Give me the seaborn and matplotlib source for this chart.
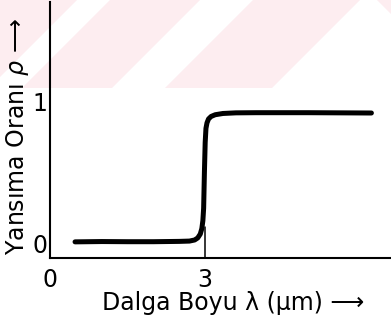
import matplotlib
matplotlib.use("Agg")
import matplotlib.pyplot as plt
from matplotlib.patches import Polygon
import seaborn as sns
import pandas as pd

# Reflectance step of a cut-off filter near 3 µm
wavelength = [0.48, 1.0, 1.5, 2.0, 2.5, 2.7, 2.8, 2.86, 2.91, 2.94, 2.96, 2.975,
              2.99, 3.005, 3.02, 3.04, 3.07, 3.12, 3.2, 3.35, 3.6, 4.0, 5.0, 6.23]
reflectance = [0.105, 0.107, 0.106, 0.106, 0.108, 0.11, 0.117, 0.13, 0.155, 0.19,
               0.24, 0.32, 0.55, 0.74, 0.83, 0.865, 0.89, 0.906, 0.917, 0.925,
               0.929, 0.93, 0.93, 0.928]
x_ticks = [0, 3]
x_tick_labels = ["0", "3"]
y_ticks = [0, 1]
y_tick_labels = ["0", "1"]
cutoff = 3.0

df = pd.DataFrame({"wavelength": wavelength, "reflectance": reflectance})

sns.set_style("white")
plt.rcParams["font.family"] = ["DejaVu Sans"]
plt.rcParams["text.color"] = "black"
plt.rcParams["axes.labelcolor"] = "black"
plt.rcParams["xtick.color"] = "black"
plt.rcParams["ytick.color"] = "black"

W, H = 391, 323
fig = plt.figure(figsize=(W / 100, H / 100), dpi=100)

# light diagonal band across the top of the page
pink = "#fdedf0"
bands = [
    [(0, 0), (77, 0), (0, 77)],
    [(110, 0), (200, 0), (112, 88), (22, 88)],
    [(253, 0), (360, 0), (272, 88), (165, 88)],
    [(377, 0), (391, 0), (391, 14)],
]
for pts in bands:
    fpts = [(x / W, 1 - y / H) for x, y in pts]
    fig.patches.append(Polygon(fpts, closed=True, transform=fig.transFigure,
                               facecolor=pink, edgecolor="none", zorder=-10))

ax = fig.add_axes([50.3 / W, 1 - 258.3 / H, 1 - 50.3 / W, (258.3 - 2) / H])
ax.set_zorder(1)
ax.patch.set_alpha(0)

ax.plot([cutoff, cutoff], [0, 0.2], color="black", lw=1.1, zorder=2)
sns.lineplot(data=df, x="wavelength", y="reflectance", ax=ax, color="black",
             lw=3.6, estimator=None, zorder=3, solid_capstyle="round",
             solid_joinstyle="round")

ax.set_xlim(0, 6.61)
ax.set_ylim(0, 1.637)

for side in ["top", "right"]:
    ax.spines[side].set_visible(False)
for side in ["left", "bottom"]:
    ax.spines[side].set_linewidth(1.5)
    ax.spines[side].set_color("black")

ax.set_xticks(x_ticks)
ax.set_xticklabels(x_tick_labels)
ax.set_yticks(y_ticks)
ax.set_yticklabels(y_tick_labels)
ax.tick_params(axis="x", length=0, pad=7, labelsize=17)
ax.tick_params(axis="y", direction="in", length=9, width=1.5, pad=2, labelsize=17)
ax.get_yticklabels()[0].set_va("bottom")

ax.set_xlabel("Dalga Boyu λ (μm) ⟶", fontsize=17, va="baseline")
ax.xaxis.set_label_coords(0.536, -0.2017)
ax.set_ylabel("Yansıma Oranı $\\rho$ ⟶", fontsize=17, va="center")
ax.yaxis.set_label_coords(-0.097, 0.475)

fig.savefig("out.png", dpi=100)
